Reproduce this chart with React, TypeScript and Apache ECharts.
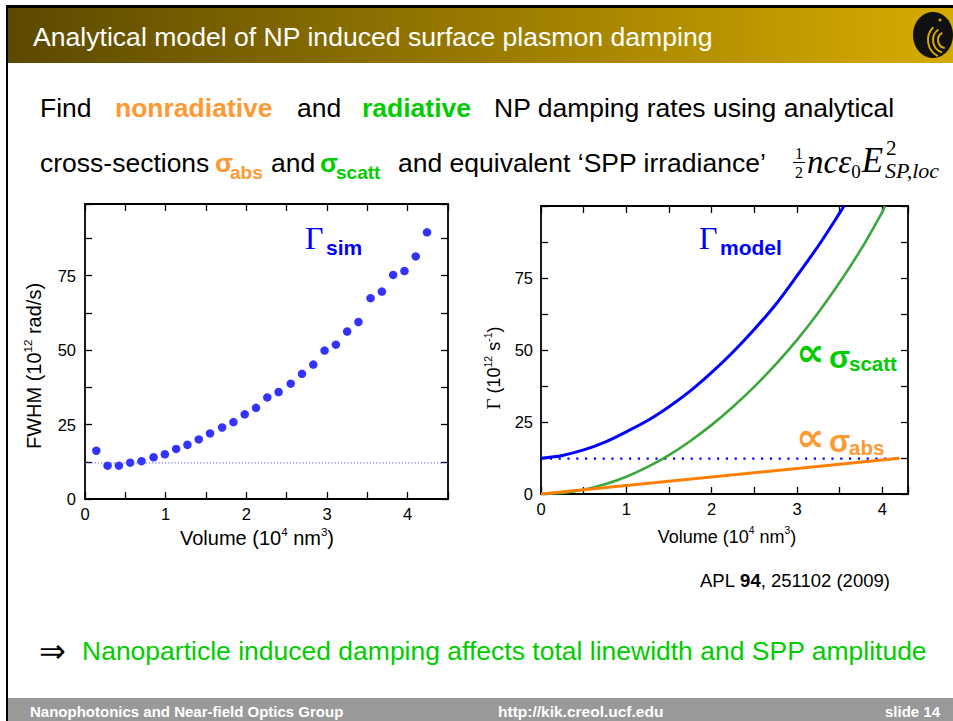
import { useEffect, useRef } from "react";
import * as echarts from "echarts";

// ---------- data ----------
// Left panel: simulated FWHM vs particle volume
const simVolume = [0.14, 0.28, 0.42, 0.56, 0.7, 0.85, 0.99, 1.13, 1.27, 1.41, 1.55, 1.7, 1.84, 1.98, 2.12, 2.26, 2.4, 2.55, 2.69, 2.83, 2.97, 3.11, 3.25, 3.39, 3.54, 3.68, 3.82, 3.96, 4.1, 4.24];
const simFwhm = [16.2, 11.2, 11.2, 12.2, 12.7, 14.0, 15.0, 16.8, 18.2, 20.0, 22.0, 24.0, 25.8, 28.4, 30.6, 34.1, 35.9, 38.7, 42.0, 45.1, 49.8, 51.8, 56.2, 59.4, 67.4, 69.6, 75.2, 76.5, 81.4, 89.5];
const simBaselineVolume = [0, 4.5];
const simBaselineRate = [12.1, 12.1];

// Right panel: analytical model
const modelVolume = [0, 0.25, 0.5, 0.75, 1, 1.25, 1.5, 1.75, 2, 2.25, 2.5, 2.75, 3, 3.25, 3.5, 3.55];
const modelTotal = [12.4, 13.4, 15.3, 18.0, 21.6, 25.5, 30.3, 35.8, 42.2, 49.3, 57.2, 65.8, 75.8, 86.2, 97.6, 100];
const scattVolume = [0, 0.25, 0.5, 0.75, 1, 1.25, 1.5, 1.75, 2, 2.25, 2.5, 2.75, 3, 3.25, 3.5, 3.75, 4.0, 4.03];
const scattRate = [0, 0.4, 1.5, 3.4, 6.0, 9.4, 13.5, 18.4, 24.0, 30.3, 37.3, 45.0, 53.5, 63.0, 73.5, 85.0, 98.0, 100];
const absVolume = [0, 4.2];
const absRate = [0, 12.4];
const intrinsicVolume = [0, 4.2];
const intrinsicRate = [12.3, 12.3];

const xTickLabels = ["0", "1", "2", "3", "4"];
const yTickLabels = ["0", "25", "50", "75"];

const SANS = "'Liberation Sans', Arial, Helvetica, sans-serif";
const SERIF = "'Liberation Serif', 'Times New Roman', serif";
const DEJAVU = "'DejaVu Sans', sans-serif";
const BLUE = "#0000ff";
const ORANGE_TXT = "#ff9933";
const GREEN_TXT = "#00cc00";
const MAIN_FS = 26.5;

const zip = (xs: number[], ys: number[]) => xs.map((x, i) => [x, ys[i]]);

const fmt = (labels: string[]) => (v: number) => {
  const s = String(Math.round(v * 1000) / 1000);
  return labels.includes(s) ? s : "";
};

function makeAxis(grid: number, pos: string, min: number, max: number, interval: number, labels: string[] | null, margin: number) {
  return {
    type: "value",
    gridIndex: grid,
    position: pos,
    min,
    max,
    interval,
    axisLine: { show: true, onZero: false, lineStyle: { color: "#000", width: 1.8 } },
    axisTick: { show: true, inside: true, length: 7, lineStyle: { color: "#000", width: 1.3 } },
    minorTick: { show: false },
    splitLine: { show: false },
    axisLabel: labels
      ? { show: true, margin, fontSize: 16.5, color: "#000", fontFamily: SANS, formatter: fmt(labels) }
      : { show: false },
  };
}

const txt = (x: number, y: number, text: string, o: any = {}) => ({
  type: "text",
  x,
  y,
  silent: true,
  style: { text, fontFamily: SANS, fontSize: MAIN_FS, fill: "#000", align: "left", verticalAlign: "middle", ...o },
});

// ---- text runs with super/subscripts, laid out by measuring each piece ----
let measureCtx: CanvasRenderingContext2D | null = null;
function measure(text: string, font: string) {
  if (!measureCtx) measureCtx = document.createElement("canvas").getContext("2d");
  if (!measureCtx) return text.length * 10;
  measureCtx.font = font;
  return measureCtx.measureText(text).width;
}
type Piece = { t: string; fs: number; fam?: string; bold?: boolean; it?: boolean; rise?: number; color?: string; sameX?: boolean; dx?: number };
function textRun(x: number, y: number, pieces: Piece[], align: "left" | "center" | "right" = "left", rotation = 0, color = "#000") {
  const items = pieces.map((p) => {
    const fam = p.fam || SANS;
    const font = `${p.it ? "italic " : ""}${p.bold ? "bold " : ""}${p.fs}px ${fam}`;
    return { ...p, fam, width: measure(p.t, font) };
  });
  let total = 0;
  let prevX = 0;
  items.forEach((p) => {
    if (p.sameX) total = prevX;
    prevX = total;
    total += p.width + (p.dx || 0);
  });
  let cx = align === "center" ? -total / 2 : align === "right" ? -total : 0;
  let lastStart = cx;
  const children = items.map((p) => {
    if (p.sameX) cx = lastStart;
    cx += p.dx || 0;
    lastStart = cx;
    const el = {
      type: "text",
      x: cx,
      y: -(p.rise || 0) - 0.345 * p.fs,
      silent: true,
      style: {
        text: p.t,
        fontFamily: p.fam,
        fontSize: p.fs,
        fontWeight: p.bold ? "bold" : "normal",
        fontStyle: p.it ? "italic" : "normal",
        fill: p.color || color,
        align: "left",
        verticalAlign: "middle",
      },
    };
    cx += p.width;
    return el;
  });
  return { type: "group", x, y, rotation, silent: true, children };
}

export default function App() {
  const ref = useRef<HTMLDivElement>(null);
  useEffect(() => {
    if (!ref.current) return;
    const chart = echarts.init(ref.current, null, { renderer: "svg" });

    const volumePieces = (fs: number): Piece[] => [
      { t: "Volume (10", fs },
      { t: "4", fs: fs * 0.58, rise: fs * 0.48 },
      { t: " nm", fs },
      { t: "3", fs: fs * 0.58, rise: fs * 0.48 },
      { t: ")", fs },
    ];

    const elements: any[] = [
      // slide frame and header
      { type: "rect", silent: true, shape: { x: 0, y: 0, width: 953, height: 721 }, style: { fill: "#fff" }, z: -10 },
      {
        type: "rect",
        silent: true,
        shape: { x: 8, y: 8, width: 945, height: 55 },
        style: {
          fill: new echarts.graphic.LinearGradient(0, 0, 1, 0, [
            { offset: 0, color: "#5c4900" },
            { offset: 1, color: "#d6ab00" },
          ]),
        },
      },
      { type: "rect", silent: true, shape: { x: 6, y: 5, width: 947, height: 3 }, style: { fill: "#000" } },
      { type: "rect", silent: true, shape: { x: 6, y: 5, width: 2, height: 716 }, style: { fill: "#000" } },
      txt(33, 37, "Analytical model of NP induced surface plasmon damping", { fill: "#fff", fontSize: 26.6 }),
      // logo (approximation)
      {
        type: "group",
        silent: true,
        children: [
          { type: "ellipse", shape: { cx: 933, cy: 35, rx: 20, ry: 23 }, style: { fill: "#111" } },
          { type: "arc", shape: { cx: 946, cy: 40, r: 8, startAngle: Math.PI * 0.55, endAngle: Math.PI * 1.35 }, style: { stroke: "#d4a900", lineWidth: 2, fill: "none" } },
          { type: "arc", shape: { cx: 946, cy: 40, r: 13, startAngle: Math.PI * 0.6, endAngle: Math.PI * 1.3 }, style: { stroke: "#d4a900", lineWidth: 2, fill: "none" } },
          { type: "arc", shape: { cx: 946, cy: 40, r: 18, startAngle: Math.PI * 0.65, endAngle: Math.PI * 1.25 }, style: { stroke: "#d4a900", lineWidth: 2, fill: "none" } },
          { type: "circle", shape: { cx: 940, cy: 20, r: 1.5 }, style: { fill: "#d4a900" } },
        ],
      },
      // line 1
      txt(40, 108, "Find"),
      txt(115, 108, "nonradiative", { fill: ORANGE_TXT, fontWeight: "bold" }),
      txt(297, 108, "and"),
      txt(362, 108, "radiative", { fill: GREEN_TXT, fontWeight: "bold" }),
      txt(494, 108, "NP damping rates using analytical"),
      // line 2
      txt(40, 163, "cross-sections"),
      txt(215, 163, "σ", { fill: ORANGE_TXT, fontWeight: "bold" }),
      txt(230, 172, "abs", { fill: ORANGE_TXT, fontWeight: "bold", fontSize: 19 }),
      txt(271, 163, "and"),
      txt(320, 163, "σ", { fill: GREEN_TXT, fontWeight: "bold" }),
      txt(336, 172, "scatt", { fill: GREEN_TXT, fontWeight: "bold", fontSize: 19 }),
      txt(398, 163, "and equivalent ‘SPP irradiance’"),
      // formula 1/2 n c eps0 E^2_{SP,loc}
      txt(795, 153, "1", { fontFamily: SERIF, fontSize: 16 }),
      { type: "line", silent: true, shape: { x1: 793, y1: 162.5, x2: 805, y2: 162.5 }, style: { stroke: "#000", lineWidth: 1 } },
      txt(795, 172, "2", { fontFamily: SERIF, fontSize: 16 }),
      textRun(807, 173, [
        { t: "ncε", fs: 33, fam: SERIF, it: true },
        { t: "0", fs: 19, fam: SERIF, rise: -5 },
        { t: "E", fs: 35, fam: SERIF, it: true, dx: 1 },
        { t: "2", fs: 21, fam: SERIF, rise: 18, dx: 3 },
        { t: "SP,loc", fs: 22, fam: SERIF, it: true, rise: -5, sameX: true, dx: -1 },
      ]),
      // chart annotations
      txt(305, 237.5, "Γ", { fontFamily: SERIF, fontSize: 32, fill: BLUE }),
      txt(326, 247.6, "sim", { fontSize: 21, fontWeight: "bold", fill: BLUE }),
      txt(699, 237.5, "Γ", { fontFamily: SERIF, fontSize: 32, fill: BLUE }),
      txt(720, 247.6, "model", { fontSize: 21, fontWeight: "bold", fill: BLUE }),
      txt(796, 352, "∝", { fontFamily: DEJAVU, fontSize: 40, fontWeight: "bold", fill: GREEN_TXT }),
      txt(829, 357.5, "σ", { fontSize: 31, fontWeight: "bold", fill: GREEN_TXT }),
      txt(849, 363, "scatt", { fontSize: 20.5, fontWeight: "bold", fill: GREEN_TXT }),
      txt(796, 437, "∝", { fontFamily: DEJAVU, fontSize: 40, fontWeight: "bold", fill: ORANGE_TXT }),
      txt(829, 441.5, "σ", { fontSize: 31, fontWeight: "bold", fill: ORANGE_TXT }),
      txt(849, 447, "abs", { fontSize: 20.5, fontWeight: "bold", fill: ORANGE_TXT }),
      // axis names
      textRun(41, 366, [
        { t: "FWHM (10", fs: 20 },
        { t: "12", fs: 11.5, rise: 9.5 },
        { t: " rad/s)", fs: 20 },
      ], "center", Math.PI / 2),
      textRun(257, 545, volumePieces(20), "center"),
      textRun(500, 368, [
        { t: "Γ", fs: 19, fam: SERIF },
        { t: " (10", fs: 18 },
        { t: "12", fs: 10.5, rise: 8.5 },
        { t: " s", fs: 18 },
        { t: "-1", fs: 10.5, rise: 8.5 },
        { t: ")", fs: 18 },
      ], "center", Math.PI / 2),
      textRun(727, 543, volumePieces(18), "center"),
      // reference
      {
        type: "text",
        silent: true,
        x: 700,
        y: 580,
        style: {
          text: "{n|APL }{b|94}{n|, 251102 (2009)}",
          fontFamily: SANS,
          fontSize: 18.5,
          rich: {
            n: { fontSize: 18.5, fontFamily: SANS, fill: "#000" },
            b: { fontSize: 18.5, fontFamily: SANS, fontWeight: "bold", fill: "#000" },
          },
          align: "left",
          verticalAlign: "middle",
        },
      },
      // conclusion
      txt(39, 651, "⇒", { fontFamily: DEJAVU, fontSize: 32 }),
      txt(82, 651, "Nanoparticle induced damping affects total linewidth and SPP amplitude", { fill: GREEN_TXT }),
      // footer
      { type: "rect", silent: true, shape: { x: 8, y: 698, width: 945, height: 23 }, style: { fill: "#999999" } },
      txt(30, 711, "Nanophotonics and Near-field Optics Group", { fill: "#fff", fontSize: 15, fontWeight: "bold" }),
      txt(498, 711, "http://kik.creol.ucf.edu", { fill: "#fff", fontSize: 15.5, fontWeight: "bold" }),
      txt(940, 711, "slide 14", { fill: "#fff", fontSize: 15, fontWeight: "bold", align: "right" }),
    ];

    const option: any = {
      animation: false,
      backgroundColor: "#fff",
      grid: [
        { left: 85, top: 204, width: 363, height: 295 },
        { left: 541, top: 206, width: 367, height: 288 },
      ],
      xAxis: [
        makeAxis(0, "bottom", 0, 4.5, 0.5, xTickLabels, 6),
        makeAxis(0, "top", 0, 4.5, 0.5, null, 6),
        makeAxis(1, "bottom", 0, 4.3, 0.5, xTickLabels, 6),
        makeAxis(1, "top", 0, 4.3, 0.5, null, 6),
      ],
      yAxis: [
        makeAxis(0, "left", 0, 99, 12.5, yTickLabels, 9),
        makeAxis(0, "right", 0, 99, 12.5, null, 9),
        makeAxis(1, "left", 0, 100, 12.5, yTickLabels, 8),
        makeAxis(1, "right", 0, 100, 12.5, null, 8),
      ],
      series: [
        {
          type: "line",
          xAxisIndex: 0,
          yAxisIndex: 0,
          data: zip(simBaselineVolume, simBaselineRate),
          symbol: "none",
          silent: true,
          lineStyle: { color: "#5a5aff", width: 1, type: [1.2, 2] },
        },
        {
          type: "scatter",
          xAxisIndex: 0,
          yAxisIndex: 0,
          data: zip(simVolume, simFwhm),
          symbolSize: 8.5,
          itemStyle: { color: BLUE },
        },
        {
          type: "line",
          xAxisIndex: 2,
          yAxisIndex: 2,
          data: zip(intrinsicVolume, intrinsicRate),
          symbol: "none",
          lineStyle: { color: BLUE, width: 2.2, type: [2.2, 6.6] },
        },
        {
          type: "line",
          xAxisIndex: 2,
          yAxisIndex: 2,
          data: zip(scattVolume, scattRate),
          symbol: "none",
          smooth: 0.3,
          lineStyle: { color: "#3aa83a", width: 2.6 },
        },
        {
          type: "line",
          xAxisIndex: 2,
          yAxisIndex: 2,
          data: zip(absVolume, absRate),
          symbol: "none",
          lineStyle: { color: "#ff8000", width: 3 },
        },
        {
          type: "line",
          xAxisIndex: 2,
          yAxisIndex: 2,
          data: zip(modelVolume, modelTotal),
          symbol: "none",
          smooth: 0.3,
          lineStyle: { color: BLUE, width: 3 },
        },
      ],
      graphic: { elements },
    };
    chart.setOption(option);
    return () => chart.dispose();
  }, []);
  return <div ref={ref} style={{ position: "absolute", left: 0, top: 0, width: 953, height: 721 }} />;
}
